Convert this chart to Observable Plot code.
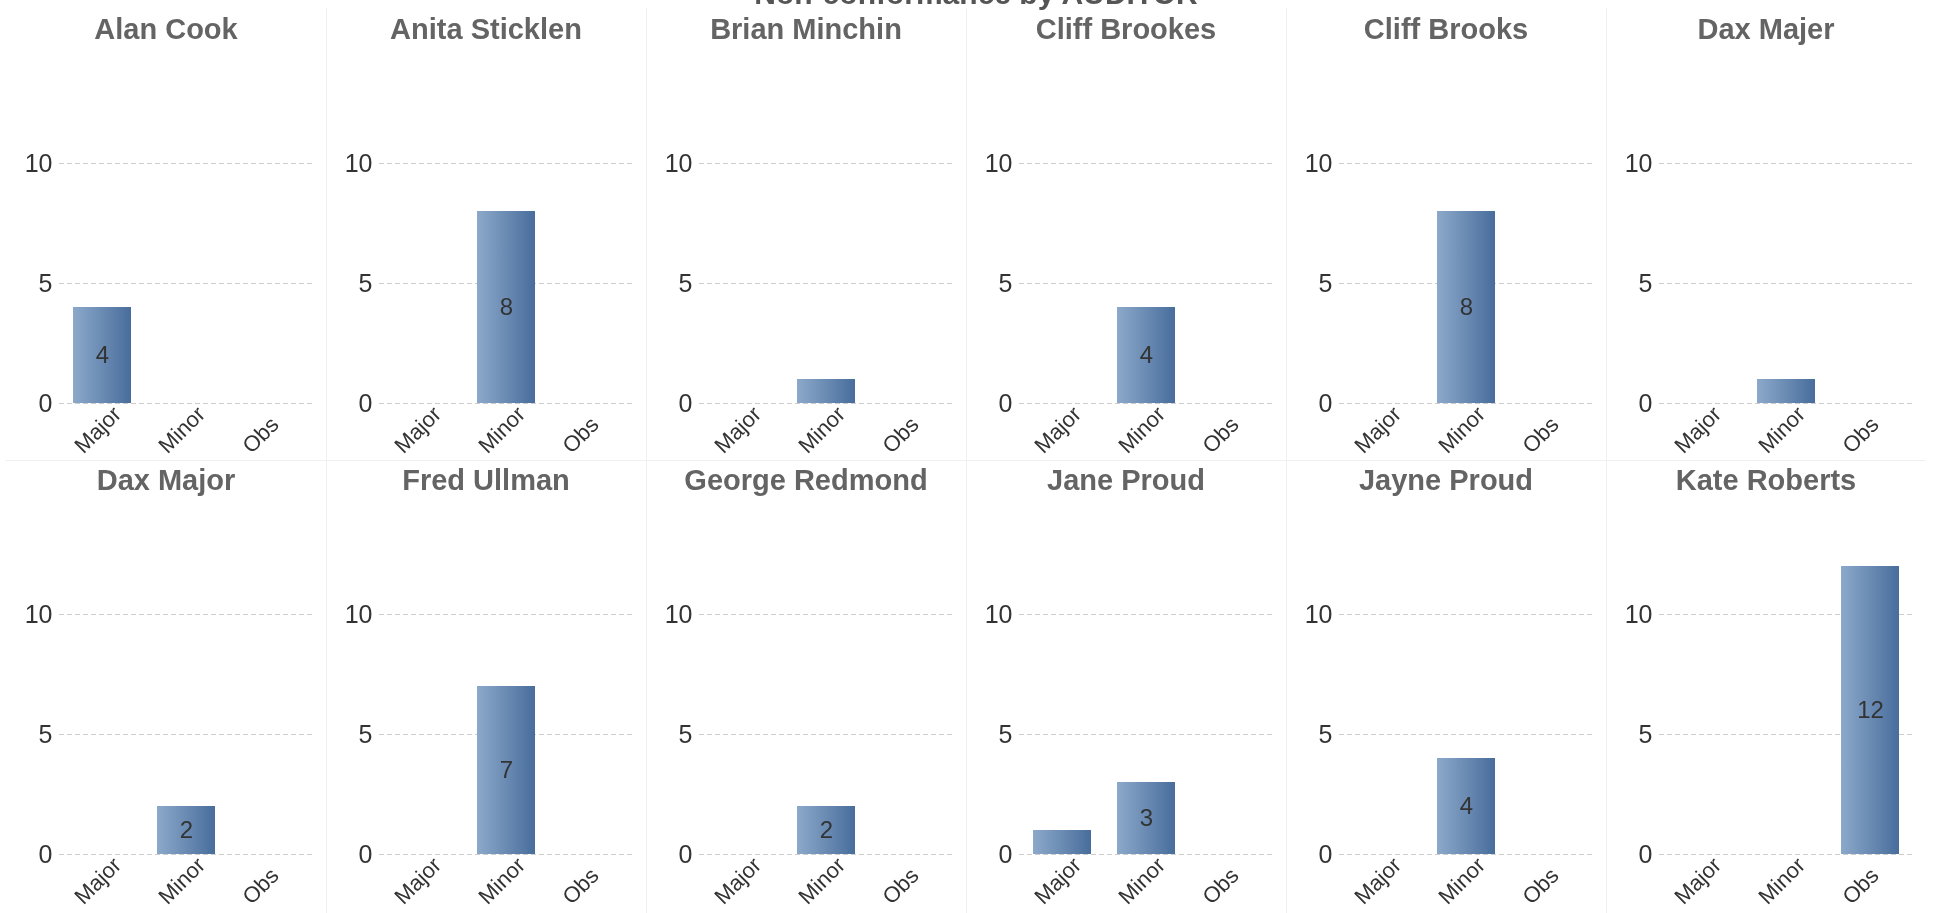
<!DOCTYPE html>
<html>
<head>
<meta charset="utf-8">
<script src="https://cdn.jsdelivr.net/npm/d3@7"></script>
<script src="https://cdn.jsdelivr.net/npm/@observablehq/plot@0.6"></script>
<style>
html, body { margin: 0; padding: 0; background: #fff; }
#scroller { position: fixed; left: 0; top: 0; width: 1944px; height: 913px; overflow-y: scroll; overflow-x: hidden; }
#content { position: relative; width: 1920px; height: 2400px; font-family: "Liberation Sans", Arial, sans-serif; }
.panel { position: absolute; width: 320px; height: 451px; }
.panel svg { position: absolute; left: 0; top: 0; overflow: visible; }
.ptitle { position: absolute; left: 0; width: 320px; text-align: center; font-weight: bold; font-size: 29px; line-height: 30px; color: #646464; top: 14px; white-space: nowrap; }
.line { position: absolute; background: #f0f0f0; }
#title { position: absolute; left: 0; width: 1952px; text-align: center; font-weight: bold; font-size: 30px; line-height: 30px; color: #555; white-space: nowrap; }
</style>
</head>
<body>
<div id="scroller"><div id="content"></div></div>
<script>
const chartTitle = "Non-conformance by AUDITOR";
const auditors = ["Alan Cook", "Anita Sticklen", "Brian Minchin", "Cliff Brookes", "Cliff Brooks", "Dax Majer",
                  "Dax Major", "Fred Ullman", "George Redmond", "Jane Proud", "Jayne Proud", "Kate Roberts"];
const categories = ["Major", "Minor", "Obs"];
const majorCounts = [4, 0, 0, 0, 0, 0, 0, 0, 0, 1, 0, 0];
const minorCounts = [0, 8, 1, 4, 8, 1, 2, 7, 2, 3, 4, 0];
const obsCounts   = [0, 0, 0, 0, 0, 0, 0, 0, 0, 0, 0, 12];
const yTicks = [0, 5, 10];

const S = 30; // scroll offset
const content = document.getElementById("content");

const t = document.createElement("div");
t.id = "title";
t.textContent = chartTitle;
t.style.top = (S - 21) + "px";
content.appendChild(t);

// dividers
for (let k = 1; k < 6; k++) {
  const v = document.createElement("div");
  v.className = "line";
  v.style.left = (6 + 320 * k) + "px";
  v.style.top = (S + 8) + "px";
  v.style.width = "1px";
  v.style.height = "905px";
  content.appendChild(v);
}
const h = document.createElement("div");
h.className = "line";
h.style.left = "6px"; h.style.top = (S + 460) + "px"; h.style.width = "1920px"; h.style.height = "1px";
content.appendChild(h);

auditors.forEach((name, i) => {
  const col = i % 6, row = Math.floor(i / 6);
  const rows = [
    {cat: "Major", v: majorCounts[i]},
    {cat: "Minor", v: minorCounts[i]},
    {cat: "Obs", v: obsCounts[i]}
  ];
  const gid = "grad" + i;
  const defs = () => {
    const d = d3.create("svg:defs");
    const g = d.append("linearGradient").attr("id", gid).attr("x1", "0%").attr("x2", "100%").attr("y1", "0%").attr("y2", "0%");
    g.append("stop").attr("offset", "0%").attr("stop-color", "#8ca9ca");
    g.append("stop").attr("offset", "100%").attr("stop-color", "#486d9c");
    return d.node();
  };
  const chart = Plot.plot({
    width: 320,
    height: 451,
    marginLeft: 53,
    marginRight: 14,
    marginTop: 67,
    marginBottom: 48,
    x: {domain: categories, paddingInner: 0.31, paddingOuter: 0.155, axis: null},
    y: {domain: [0, 14], axis: null},
    style: {fontFamily: "'Liberation Sans', Arial, sans-serif", background: "transparent", overflow: "visible"},
    marks: [
      defs,
      Plot.gridY(yTicks, {stroke: "#cccccc", strokeOpacity: 1, strokeDasharray: "5,3"}),
      Plot.axisY(yTicks, {tickSize: 0, tickPadding: 7, fontSize: 25, fill: "#333", label: null}),
      Plot.barY(rows.filter(d => d.v > 0), {x: "cat", y: "v", fill: `url(#${gid})`}),
      Plot.text(rows.filter(d => d.v >= 2), {x: "cat", y: d => d.v / 2, text: d => String(d.v), fontSize: 24, fill: "#333"}),
      Plot.text(categories, {x: d => d, frameAnchor: "bottom", text: d => d, rotate: -45, textAnchor: "start", lineAnchor: "bottom", dx: -19, dy: 51, fontSize: 22, fill: "#333"})
    ]
  });
  const p = document.createElement("div");
  p.className = "panel";
  p.style.left = (6 + 320 * col) + "px";
  p.style.top = (S + 451 * row) + "px";
  p.appendChild(chart);
  const tt = document.createElement("div");
  tt.className = "ptitle";
  tt.textContent = name;
  p.appendChild(tt);
  content.appendChild(p);
});

document.getElementById("scroller").scrollTop = S;
</script>
</body>
</html>
